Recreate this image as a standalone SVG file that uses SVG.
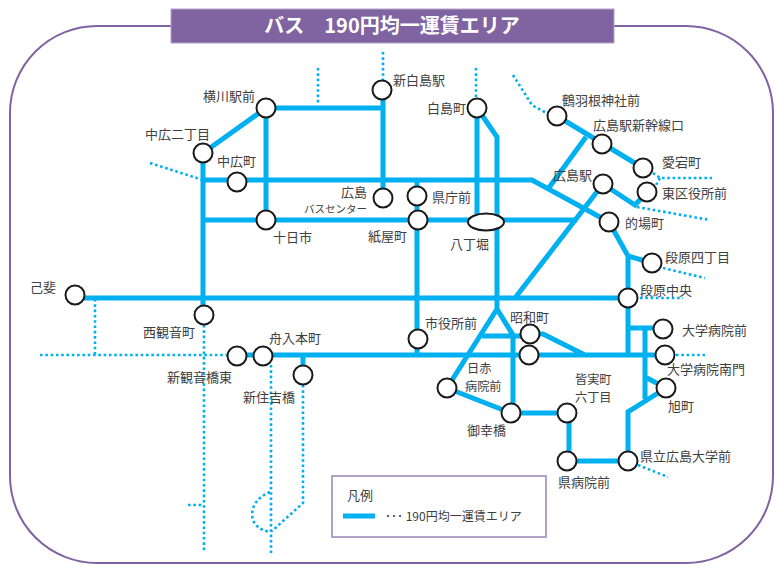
<svg xmlns="http://www.w3.org/2000/svg" width="774" height="565" viewBox="0 0 774 565">
<style>
.ln{fill:none;stroke:#00b0f0;stroke-width:5;stroke-linejoin:miter}
.dt{fill:none;stroke:#00b0f0;stroke-width:2.6;stroke-dasharray:2.6 2.7}
.st{fill:#fff;stroke:#1a1a1a;stroke-width:2}
text{font-family:"Noto Sans CJK JP","Noto Sans",sans-serif;font-size:13px;fill:#404040}
.r{text-anchor:end}
.s{font-size:12.2px}
</style>
<rect x="10" y="26" width="763" height="537" rx="87" fill="none" stroke="#8064a2" stroke-width="2"/>
<g id="title">
<rect x="171" y="9" width="443" height="34" fill="#8064a2" stroke="#b3a2c7" stroke-width="1"/>
<text x="392" y="33" text-anchor="middle" style="font-size:20px;font-weight:bold;fill:#fff">バス　190円均一運賃エリア</text>
</g>
<g id="connectors">
<path class="ln" d="M203,153 L266,108 H383 M383,90 V198 M266,108 V220 M203,153 V310 M203,180 H532 L609,222 M203,220 H577 M417,180 V356 M477,108 V222 M477,108 L497,137 V309 L513,335 V410 M497,309 L447,388 M482,336 H530 M530,334 H543 L585,355 M75,298 H628 M237,355 H665 M303,355 V375 M447,388 L511,413 H567 M569,413 V461 H628 M628,461 V412 L666,388 M645,328 V399 M645,377 L666,388 M628,328 H663 M628,256 V355 M609,222 L628,256 L652,263 M557,116 L643,168 M586,137 L548,189 M603,184 L515,298 M603,184 L635,205 L647,192"/>
<path class="dt" d="M318,68 V103 M383,52 V80 M476,68 V98 M513,75 L532,105 L548,114 M653,173 L660,178 H712 M660,178 L656,185 M637,207 L710,220 M663,268 L705,278 M640,298 H683 M676,355 H705 M638,465 L668,477 M150,163 L203,180 M95,299 V355 M40,355 H228 M204,325 V553 M188,505 H204 M271,365 V553 M303,385 V503 L272,531 M270,492 C255,498 250,510 253,520 C256,528 264,531 270,532"/>
</g>
<g id="n-yokogawa"><circle class="st" cx="266" cy="108" r="9.5"/><text x="203" y="101">横川駅前</text></g>
<g id="n-shinhakushima"><circle class="st" cx="382" cy="90" r="9.5"/><text x="393" y="85">新白島駅</text></g>
<g id="n-hakushima"><circle class="st" cx="477" cy="108" r="9.5"/><text x="427" y="113">白島町</text></g>
<g id="n-nakahiro2"><circle class="st" cx="203" cy="153" r="9.5"/><text x="145" y="139">中広二丁目</text></g>
<g id="n-nakahiro"><circle class="st" cx="237" cy="182" r="9.5"/><text x="217" y="166">中広町</text></g>
<g id="n-buscenter"><circle class="st" cx="383" cy="198" r="9.5"/><text class="r" x="367" y="197">広島<tspan x="367" y="213" style="font-size:10.5px">バスセンター</tspan></text></g>
<g id="n-kenchomae"><circle class="st" cx="417" cy="196" r="9.5"/><text x="432" y="202">県庁前</text></g>
<g id="n-kamiyacho"><circle class="st" cx="418" cy="220" r="9.5"/><text x="368" y="241">紙屋町</text></g>
<g id="n-tokaichi"><circle class="st" cx="266" cy="220" r="9.5"/><text x="273" y="242">十日市</text></g>
<g id="n-hatchobori"><ellipse class="st" cx="486" cy="222" rx="18" ry="8.5"/><text x="450" y="249">八丁堀</text></g>
<g id="n-tsuruhane"><circle class="st" cx="557" cy="116" r="9.5"/><text x="562" y="105">鶴羽根神社前</text></g>
<g id="n-shinkansenguchi"><circle class="st" cx="602" cy="144" r="9.5"/><text x="593" y="130">広島駅新幹線口</text></g>
<g id="n-atago"><circle class="st" cx="643" cy="168" r="9.5"/><text x="662" y="167">愛宕町</text></g>
<g id="n-higashikuyakusho"><circle class="st" cx="647" cy="192" r="9.5"/><text x="662" y="198">東区役所前</text></g>
<g id="n-hiroshimaeki"><circle class="st" cx="603" cy="184" r="9.5"/><text x="553" y="180">広島駅</text></g>
<g id="n-matoba"><circle class="st" cx="609" cy="222" r="9.5"/><text x="625" y="228">的場町</text></g>
<g id="n-danbara4"><circle class="st" cx="652" cy="263" r="9.5"/><text x="665" y="262">段原四丁目</text></g>
<g id="n-danbarachuo"><circle class="st" cx="628" cy="298" r="9.5"/><text x="640" y="295">段原中央</text></g>
<g id="n-koi"><circle class="st" cx="75" cy="295" r="9.5"/><text x="30" y="292">己斐</text></g>
<g id="n-nishikannon"><circle class="st" cx="204" cy="315" r="9.5"/><text x="143" y="337">西観音町</text></g>
<g id="n-shinkannonbashi"><circle class="st" cx="237" cy="356" r="9.5"/><text x="167" y="382">新観音橋東</text></g>
<g id="n-funairihonmachi"><circle class="st" cx="263" cy="356" r="9.5"/><text x="269" y="343">舟入本町</text></g>
<g id="n-shinsumiyoshi"><circle class="st" cx="303" cy="375" r="9.5"/><text x="243" y="402">新住吉橋</text></g>
<g id="n-shiyakusho"><circle class="st" cx="418" cy="339" r="9.5"/><text x="425" y="328">市役所前</text></g>
<g id="n-showa"><circle class="st" cx="530" cy="334" r="9.5"/><circle class="st" cx="529" cy="355" r="9.5"/><text x="510" y="322">昭和町</text></g>
<g id="n-sekijuji"><circle class="st" cx="447" cy="388" r="9.5"/><text class="s" x="467" y="372.5">日赤<tspan x="465" y="390.5">病院前</tspan></text></g>
<g id="n-miyukibashi"><circle class="st" cx="511" cy="413" r="9.5"/><text x="467" y="435">御幸橋</text></g>
<g id="n-minami6"><circle class="st" cx="567" cy="413" r="9.5"/><text class="s" x="575" y="383.5">皆実町<tspan x="575" y="401.5">六丁目</tspan></text></g>
<g id="n-kenbyoin"><circle class="st" cx="567" cy="461" r="9.5"/><text x="558" y="487">県病院前</text></g>
<g id="n-kenritsudai"><circle class="st" cx="628" cy="461" r="9.5"/><text x="640" y="461">県立広島大学前</text></g>
<g id="n-asahi"><circle class="st" cx="666" cy="388" r="9.5"/><text x="668" y="411">旭町</text></g>
<g id="n-daigakubyoin"><circle class="st" cx="663" cy="329" r="9.5"/><text x="682" y="335">大学病院前</text></g>
<g id="n-daigakunanmon"><circle class="st" cx="665" cy="355" r="9.5"/><text x="667" y="374">大学病院南門</text></g>
<g id="legend">
<rect x="332" y="476" width="214" height="61" fill="#fff" stroke="#b3a2c7" stroke-width="2"/>
<text x="347" y="500">凡例</text>
<line class="ln" x1="343" y1="516" x2="375" y2="516"/>
<text x="385" y="521" style="font-size:12px">･･･ 190円均一運賃エリア</text>
</g>
</svg>
